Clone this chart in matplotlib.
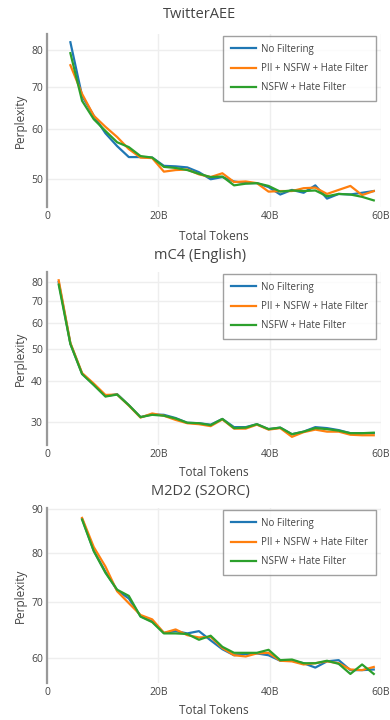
import matplotlib
matplotlib.use("Agg")
import matplotlib.pyplot as plt
from matplotlib.ticker import NullLocator

plt.rcParams['font.family'] = ['Open Sans', 'DejaVu Sans']

# checkpoint positions, billions of tokens
tokens = [2.1, 4.2, 6.3, 8.4, 10.5, 12.6, 14.7, 16.8, 18.9, 21.0, 23.1, 25.2, 27.3, 29.4,
          31.5, 33.6, 35.7, 37.7, 39.8, 41.9, 44.0, 46.1, 48.2, 50.3, 52.4, 54.5, 56.6, 58.7]

series_names = ["No Filtering", "PII + NSFW + Hate Filter", "NSFW + Hate Filter"]
colors = ["#1f77b4", "#ff7f0e", "#2ca02c"]

# TwitterAEE (starts at 2nd checkpoint)
twitter_none = [82.3, 67.7, 63.0, 59.1, 56.4, 54.2, 54.2, 54.1, 52.5, 52.4, 52.2, 51.3, 50.0, 50.4,
                49.6, 49.3, 49.3, 48.6, 47.3, 48.1, 47.6, 48.9, 46.6, 47.4, 47.3, 47.6, 47.9]
twitter_pii = [75.7, 68.2, 63.0, 60.5, 58.3, 55.8, 54.1, 54.0, 51.4, 51.7, 51.8, 50.9, 50.4, 51.1,
               49.5, 49.6, 49.3, 47.8, 47.9, 47.9, 48.4, 48.5, 47.4, 48.1, 48.8, 47.2, 47.9]
twitter_nsfw = [79.1, 66.5, 62.2, 59.6, 57.2, 56.2, 54.4, 54.1, 52.3, 52.1, 51.7, 51.0, 50.4, 50.5,
                48.9, 49.2, 49.3, 48.8, 47.8, 48.0, 47.9, 48.0, 47.0, 47.4, 47.3, 46.9, 46.3]

# mC4 (English) (starts at 1st checkpoint)
mc4_none = [79.8, 51.9, 42.1, 39.0, 36.0, 36.5, 33.8, 31.1, 31.7, 31.6, 30.9, 29.9, 29.8, 29.5,
            30.7, 29.0, 29.0, 29.6, 28.6, 28.9, 27.6, 28.1, 29.0, 28.8, 28.4, 27.8, 27.8, 27.8]
mc4_pii = [80.8, 52.2, 42.3, 39.3, 36.3, 36.4, 33.7, 31.0, 31.9, 31.4, 30.5, 29.8, 29.6, 29.2,
           30.6, 28.7, 28.7, 29.5, 28.5, 28.8, 27.1, 28.0, 28.5, 28.1, 28.1, 27.5, 27.4, 27.4]
mc4_nsfw = [78.4, 51.8, 42.0, 38.9, 35.9, 36.4, 33.8, 31.1, 31.6, 31.4, 30.8, 29.9, 29.8, 29.4,
            30.7, 28.8, 28.9, 29.6, 28.6, 28.9, 27.6, 28.1, 28.8, 28.6, 28.3, 27.8, 27.8, 27.9]

# M2D2 (S2ORC) (starts at 3rd checkpoint)
m2d2_none = [87.7, 80.4, 75.9, 72.2, 70.6, 67.3, 66.3, 64.3, 64.6, 64.2, 64.6, 63.0, 61.5,
             60.5, 60.7, 60.8, 60.5, 59.6, 59.6, 59.2, 58.5, 59.5, 59.7, 58.1, 58.1, 58.2]
m2d2_pii = [87.9, 81.2, 77.0, 72.0, 69.7, 67.5, 66.7, 64.3, 64.9, 63.9, 63.5, 63.6, 61.7,
            60.5, 60.3, 60.8, 60.9, 59.6, 59.5, 59.0, 59.2, 59.5, 59.2, 58.2, 58.1, 58.6]
m2d2_nsfw = [87.5, 80.3, 75.7, 72.3, 71.1, 67.2, 66.2, 64.2, 64.2, 64.1, 63.1, 63.8, 61.9,
             60.9, 60.9, 60.9, 61.4, 59.7, 59.8, 59.2, 59.2, 59.6, 59.1, 57.5, 59.0, 57.5]

x_ticks = [0, 20, 40, 60]
x_ticklabels = ["0", "20B", "40B", "60B"]

panels = [
    ("TwitterAEE", tokens[1:], [twitter_none, twitter_pii, twitter_nsfw], (45.2, 84.8), [50, 60, 70, 80]),
    ("mC4 (English)", tokens, [mc4_none, mc4_pii, mc4_nsfw], (25.6, 85.6), [30, 40, 50, 60, 70, 80]),
    ("M2D2 (S2ORC)", tokens[2:], [m2d2_none, m2d2_pii, m2d2_nsfw], (56.1, 90.3), [60, 70, 80, 90]),
]

W, H = 390, 720
fig = plt.figure(figsize=(W / 100, H / 100), dpi=100)

# pixel boxes (top, bottom) of each plot area, plus title / xlabel rows
boxes = [(34, 207, 15, 237), (272, 445, 255, 473), (508, 683, 492, 711)]
left, right = 47, 381
txt = "#444444"

for (title, xs, ys, ylim, yt), (top, bot, ty, ly) in zip(panels, boxes):
    ax = fig.add_axes([left / W, 1 - bot / H, (right - left) / W, (bot - top) / H])
    for vals, name, c in zip(ys, series_names, colors):
        ax.plot(xs, vals, color=c, lw=1.6, label=name)
    ax.set_yscale("log")
    ax.set_ylim(*ylim)
    ax.set_xlim(0, 60)
    ax.set_yticks(yt)
    ax.set_yticklabels([str(v) for v in yt])
    ax.yaxis.set_minor_locator(NullLocator())
    ax.set_xticks(x_ticks)
    ax.set_xticklabels(x_ticklabels)
    ax.tick_params(length=0, labelsize=7.5, colors=txt, pad=3)
    ax.grid(True, color="#eeeeee", lw=1)
    ax.set_axisbelow(True)
    for s in ["top", "right", "bottom"]:
        ax.spines[s].set_visible(False)
    ax.spines["left"].set_color("#999999")
    ax.spines["left"].set_linewidth(1.6)

    fig.text(200 / W, 1 - ty / H, title, ha="center", va="center", fontsize=10.5, color=txt)
    fig.text((left + right) / 2 / W, 1 - ly / H, "Total Tokens", ha="center", va="center",
             fontsize=8.5, color=txt)
    fig.text(20 / W, 1 - (top + bot) / 2 / H, "Perplexity", ha="center", va="center",
             rotation=90, fontsize=8.5, color=txt)

    leg = ax.legend(loc="upper right", bbox_to_anchor=((376 - left) / (right - left), 1 - 2 / (bot - top)),
                    fontsize=7, frameon=True, fancybox=False, handlelength=2.6, handletextpad=0.5,
                    labelspacing=0.85, borderpad=0.8, borderaxespad=0)
    leg.get_frame().set_edgecolor("#888888")
    leg.get_frame().set_linewidth(1)
    for t in leg.get_texts():
        t.set_color(txt)
    for h in leg.get_lines():
        h.set_linewidth(1.6)

fig.savefig("out.png", dpi=100)
